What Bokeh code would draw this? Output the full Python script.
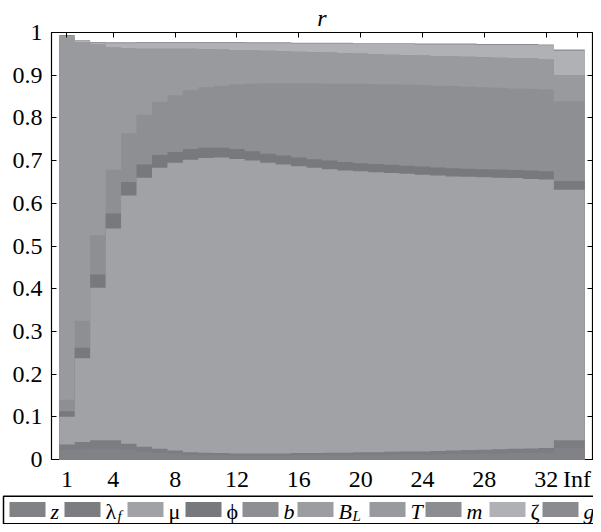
from bokeh.plotting import figure
from bokeh.models import FixedTicker, LinearAxis, Range1d
from bokeh.layouts import column
from bokeh.embed import file_html
from bokeh.resources import INLINE
from bokeh.core.properties import value

# ---------------- data ----------------
HORIZON_POS = list(range(1, 33)) + [34]
X_TICKS = [1, 4, 8, 12, 16, 20, 24, 28, 32, 34]
X_TICK_LABELS = ["1", "4", "8", "12", "16", "20", "24", "28", "32", "Inf"]
Y_TICKS = [0, 0.1, 0.2, 0.3, 0.4, 0.5, 0.6, 0.7, 0.8, 0.9, 1]
Y_TICK_LABELS = ["0", "0.1", "0.2", "0.3", "0.4", "0.5", "0.6", "0.7", "0.8", "0.9", "1"]
TITLE = "r"

z = [.022, .024, .026, .026, .022, .018, .015, .013, .011, .010, .010, .009, .009, .009, .009, .010, .010,
     .010, .010, .011, .011, .011, .012, .012, .012, .013, .013, .014, .014, .015, .015, .016, .027]
lam_f = [.013, .017, .019, .019, .015, .012, .010, .008, .006, .006, .005, .005, .005, .005, .005, .005, .005,
         .006, .006, .006, .006, .007, .007, .007, .008, .008, .009, .009, .010, .010, .011, .011, .018]
mu = [.065, .196, .357, .496, .581, .630, .658, .674, .685, .690, .692, .690, .686, .681, .677, .672, .668,
      .664, .661, .658, .656, .653, .650, .648, .645, .642, .640, .638, .636, .634, .631, .629, .587]
phi = [.013, .025, .031, .035, .032, .031, .030, .025, .025, .024, .023, .023, .022, .021, .021, .020, .020,
       .020, .020, .019, .019, .019, .019, .019, .019, .019, .019, .019, .019, .019, .020, .019, .020]
b = [.027, .063, .092, .103, .114, .117, .125, .133, .138, .142, .146, .152, .158, .165, .169, .174, .178,
     .180, .183, .186, .187, .189, .190, .191, .192, .193, .192, .192, .192, .191, .191, .192, .187]
B_L = [0.0] * 33
T = [.850, .653, .447, .286, .199, .154, .124, .109, .097, .089, .084, .080, .078, .076, .075, .074, .073,
     .073, .072, .071, .070, .069, .069, .069, .069, .069, .070, .070, .070, .071, .071, .070, .061]
m = [0.0] * 33
zeta = [.001, .002, .004, .010, .012, .014, .014, .014, .014, .015, .016, .017, .017, .018, .019, .019, .020,
        .021, .022, .022, .024, .025, .026, .026, .027, .028, .029, .029, .030, .031, .032, .033, .057]
g = [.003, .002, .002, .002, .002, .002, .002, .002, .002, .002, .002, .002, .002, .002, .002, .002, .002,
     .002, .002, .002, .002, .002, .002, .002, .002, .002, .002, .002, .002, .002, .002, .002, .003]

SERIES = [z, lam_f, mu, phi, b, B_L, T, m, zeta, g]
# (main text, subscript, main style)
LABELS = [("z", "", "italic"), ("\u03bb", "f", "normal"), ("\u03bc", "", "normal"), ("\u03d5", "", "normal"),
          ("b", "", "italic"), ("B", "L", "italic"), ("T", "", "italic"), ("m", "", "italic"),
          ("\u03b6", "", "normal"), ("g", "", "italic")]
COLORS = ["#818286", "#7c7d81", "#a1a2a6", "#78797d", "#8e8f93",
          "#9c9da0", "#999a9e", "#8c8d91", "#b0b1b4", "#8a8b8e"]

FONT = "Liberation Serif"
W = 593
H = 524
LH = 30

# ---------------- main chart ----------------
p = figure(width=W, height=H - LH, x_range=Range1d(0, 35), y_range=Range1d(0, 1),
           output_backend="svg", toolbar_location=None,
           min_border_left=51, min_border_right=1, min_border_top=32, min_border_bottom=35)
try:
    p.frame_align = False
except Exception:
    pass
p.grid.visible = False
p.outline_line_color = "black"
p.outline_line_width = 1.2
p.background_fill_color = "white"
p.border_fill_color = "white"

p.title.text = TITLE
p.title.align = "center"
p.title.text_font = FONT
p.title.text_font_size = "24px"
p.title.text_font_style = "italic"
p.title.text_color = "black"
p.title.standoff = 4
p.title.offset = 0

rights = [x + 0.5 for x in HORIZON_POS]
lefts = [HORIZON_POS[0] - 0.5] + rights[:-1]

cum = []
run = [0.0] * len(HORIZON_POS)
for s in SERIES:
    run = [a + v for a, v in zip(run, s)]
    cum.append(run)

for k in reversed(range(len(SERIES))):
    px, py = [], []
    for l, r, t in zip(lefts, rights, cum[k]):
        px += [l, r]
        py += [t, t]
    px += [rights[-1], lefts[0]]
    py += [0, 0]
    p.patch(px, py, fill_color=COLORS[k], line_color=None)

p.xaxis.ticker = FixedTicker(ticks=X_TICKS)
p.xaxis.major_label_overrides = dict(zip(X_TICKS, X_TICK_LABELS))
p.yaxis.ticker = FixedTicker(ticks=Y_TICKS)
p.yaxis.major_label_overrides = dict(zip(Y_TICKS, Y_TICK_LABELS))
for ax in (p.xaxis, p.yaxis):
    ax.major_label_text_font = FONT
    ax.major_label_text_font_size = "24px"
    ax.major_label_text_color = "black"
    ax.axis_line_color = None
    ax.minor_tick_line_color = None
    ax.major_tick_line_color = "black"
p.xaxis.major_tick_in = 0
p.xaxis.major_tick_out = 0
p.xaxis.major_label_standoff = 6
p.yaxis.major_tick_in = 5
p.yaxis.major_tick_out = 0
p.yaxis.major_label_standoff = 9

top_ax = LinearAxis(ticker=FixedTicker(ticks=X_TICKS), major_tick_in=5, major_tick_out=0,
                    minor_tick_line_color=None, axis_line_color=None, major_label_standoff=0,
                    major_label_text_font_size="0px",
                    major_label_overrides={t: "" for t in X_TICKS})
right_ax = LinearAxis(ticker=FixedTicker(ticks=Y_TICKS), major_tick_in=5, major_tick_out=0,
                      minor_tick_line_color=None, axis_line_color=None, major_label_standoff=0,
                      major_label_text_font_size="0px",
                      major_label_overrides={t: "" for t in Y_TICKS})
p.add_layout(top_ax, "above")
p.add_layout(right_ax, "right")

# ---------------- legend strip ----------------
lg = figure(width=W, height=LH, x_range=Range1d(0, W), y_range=Range1d(0, LH), title=None,
            output_backend="svg", toolbar_location=None, min_border=0,
            x_axis_type=None, y_axis_type=None)
lg.outline_line_color = None
lg.background_fill_color = "white"
lg.border_fill_color = "white"
try:
    lg.frame_align = False
except Exception:
    pass

LEG_X = [9, 64, 127, 185, 242, 297, 369, 425, 489, 542]
SW = 36
GAP = 5
lg.quad(left=3, right=W + 50, bottom=0.8, top=LH - 1.8, fill_color=None,
        line_color="black", line_width=1.5)
lg.quad(left=LEG_X, right=[x + SW for x in LEG_X], bottom=7.5, top=22.5,
        fill_color=COLORS, line_color=None)

MAIN_W = {"\u03bb": 12, "B": 14}
for style in ("italic", "normal"):
    xs = [x + SW + GAP for x, (t, s, st) in zip(LEG_X, LABELS) if st == style]
    ts = [t for (t, s, st) in LABELS if st == style]
    lg.text(x=xs, y=[13.5] * len(xs), text=ts, text_font=value(FONT), text_font_size=value("22px"),
            text_font_style=value(style), text_align=value("left"), text_baseline=value("middle"),
            text_color="black")
sx = [x + SW + GAP + MAIN_W[t] for x, (t, s, st) in zip(LEG_X, LABELS) if s]
sub = [s for (t, s, st) in LABELS if s]
lg.text(x=sx, y=[8.5] * len(sx), text=sub, text_font=value(FONT), text_font_size=value("15px"),
        text_font_style=value("italic"), text_align=value("left"), text_baseline=value("middle"),
        text_color="black")

layout = column(p, lg, spacing=0)
open("out.html", "w").write(file_html(layout, INLINE))
